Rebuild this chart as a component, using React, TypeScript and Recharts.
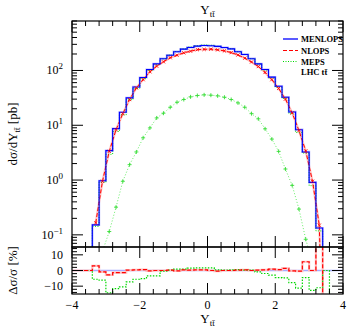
import React from 'react';
import { ComposedChart, Line, XAxis, YAxis, ReferenceLine } from 'recharts';

// bin centres of the rapidity histogram (width 0.2)
const binCenters = [-3.3, -3.1, -2.9, -2.7, -2.5, -2.3, -2.1, -1.9, -1.7, -1.5, -1.3, -1.1, -0.9, -0.7, -0.5, -0.3, -0.1,
  0.1, 0.3, 0.5, 0.7, 0.9, 1.1, 1.3, 1.5, 1.7, 1.9, 2.1, 2.3, 2.5, 2.7, 2.9, 3.1, 3.3];
const binWidth = 0.2;

// dsigma/dY [pb]
const menlops = [0.152, 0.97, 3.44, 8.7, 17.3, 31.6, 50, 74.5, 104, 132, 164, 190, 220, 245, 263, 278, 286,
  283, 275, 262, 248, 220, 196, 164, 132, 104, 75.5, 51.6, 32.5, 17.5, 8.3, 3.26, 0.906, 0.133];
const nlops = [0.165, 0.95, 3.34, 8.3, 16.3, 29.5, 48, 68, 94.6, 120, 144, 171, 190, 210, 225, 240, 243,
  245, 238, 228, 212, 192, 168, 143, 118, 92, 68, 47, 30, 16.8, 8.0, 3.4, 0.95, 0.15];
const mepsScaled = [0.143, 0.91, 2.95, 7.7, 15.5, 29.3, 47.2, 70.6, 100.5, 127.5, 163.3, 190.4, 222, 247, 267, 283, 291,
  288, 276, 262.5, 249, 221, 196.4, 164.3, 130.8, 102, 73.2, 49.3, 31, 16.2, 7.4, 3.11, 0.79, 0.118];
const mepsRaw = [0.012, 0.05, 0.115, 0.32, 0.95, 1.91, 3.26, 5.9, 8.95, 13.6, 16.6, 21.3, 26.3, 29.5, 33, 34.9, 35.9,
  35.4, 34.4, 32.5, 29.5, 25.6, 21.3, 16.3, 13.1, 8.6, 5.6, 3.34, 1.59, 0.8, 0.295, 0.083, 0.03, 0.008];

// ratio panel, percent deviation from MENLOPS
const nlopsRatio = [3.0, -0.9, -2.8, -1.3, -1.3, 0.2, 0.4, 0.6, -0.2, 0, 0, 0.2, -0.2, 0.4, 0.2, 0.4, 0.4,
  0, -0.4, 0, 0, 0.2, 0.4, 0, 0.2, 0.4, 0.9, 0.6, 1.3, -0.2, -0.4, 5.6, 0, 40];
const mepsRatio = [-5.6, -6.2, -14.2, -11.6, -10.5, -7.3, -5.6, -5.2, -3.4, -3.4, -0.4, 0.2, 0.9, 0.9, 1.5, 1.7, 1.7,
  1.7, 0.4, 0.2, 0.4, 0.6, 0.2, 0.2, -0.9, -1.9, -3.0, -4.5, -4.7, -7.7, -11.2, -4.5, -12.7, -11, 0];

const xMajor = [-4, -2, 0, 2, 4];
const xTicks = [-4, -3.6, -3.2, -2.8, -2.4, -2, -1.6, -1.2, -0.8, -0.4, 0, 0.4, 0.8, 1.2, 1.6, 2, 2.4, 2.8, 3.2, 3.6, 4];
const yTicks = [0.07, 0.08, 0.09, 0.1, 0.2, 0.3, 0.4, 0.5, 0.6, 0.7, 0.8, 0.9, 1, 2, 3, 4, 5, 6, 7, 8, 9,
  10, 20, 30, 40, 50, 60, 70, 80, 90, 100, 200, 300, 400, 500, 600, 700, 800];
const rTicks = [-14, -12, -10, -8, -6, -4, -2, 0, 2, 4, 6, 8, 10, 12, 14];
const rMajor = [-10, 0, 10];

const W = 351, H = 332;
const PL = 72, PR = 343, MT = 21, MB = 247, RB = 294;
const FONT = '"Liberation Serif", "DejaVu Serif", serif';
const SUB = 't' + 't\u0304';

const BLUE = '#0000ff', RED = '#ff0000', GREEN = '#00d800';

const stepPoints = (vals: number[], floor: number, start?: number) => {
  const pts: { x: number; y: number }[] = [];
  if (start !== undefined) pts.push({ x: start, y: floor });
  vals.forEach((v, i) => {
    const c = binCenters[0] + binWidth * i;
    pts.push({ x: c - binWidth / 2, y: v });
  });
  const lastC = binCenters[0] + binWidth * (vals.length - 1);
  pts.push({ x: lastC + binWidth / 2, y: floor });
  return pts;
};
const centerPoints = (vals: number[]) => vals.map((v, i) => ({ x: binCenters[i], y: v }));

const menlopsStep = stepPoints(menlops, 0.001, binCenters[0] - 0.3);
const mepsStep = stepPoints(mepsScaled, 0.001, binCenters[0] - 0.3);
const nlopsLine = [...centerPoints(nlops), { x: 3.4, y: 0.001 }];
const mepsLine = centerPoints(mepsRaw);
const nlopsRatioStep = [{ x: -4, y: 0 }, ...stepPoints(nlopsRatio, -40)];
const mepsRatioStep = [{ x: -4, y: 0 }, ...stepPoints(mepsRatio, -40)];

const isMajorLog = (v: number) => Math.abs(Math.log10(v) - Math.round(Math.log10(v))) < 1e-6;

const fmt = (v: number) => (v < 0 ? '\u2212' + Math.abs(v) : String(v));

function MainYTick(props: any) {
  const { y, payload } = props;
  const v = payload.value;
  const major = isMajorLog(v);
  const len = major ? 11 : 5;
  const exp = Math.round(Math.log10(v));
  return (
    <g>
      <path d={`M${PL},${y}H${PL + len}M${PR - len},${y}H${PR}`} stroke="#000" strokeWidth={1} fill="none" />
      {major && (
        <text x={PL - 9} y={y + 4} textAnchor="end" fontSize={12} fontFamily={FONT} fill="#000" stroke="none">
          10<tspan dy={-5} fontSize={9}>{fmt(exp)}</tspan>
        </text>
      )}
    </g>
  );
}

function RatioYTick(props: any) {
  const { y, payload } = props;
  const v = payload.value;
  const major = rMajor.includes(v);
  const len = major ? 11 : 5;
  return (
    <g>
      <path d={`M${PL},${y}H${PL + len}M${PR - len},${y}H${PR}`} stroke="#000" strokeWidth={1} fill="none" />
      {major && (
        <text x={PL - 9} y={y + 4} textAnchor="end" fontSize={12} fontFamily={FONT} fill="#000" stroke="none">
          {fmt(v)}
        </text>
      )}
    </g>
  );
}

function XTick(props: any) {
  const { x, payload, top, bottom, labels } = props;
  const v = payload.value;
  const major = xMajor.includes(v);
  const len = major ? 11 : 5;
  return (
    <g>
      <path d={`M${x},${top}V${top + len}M${x},${bottom - len}V${bottom}`} stroke="#000" strokeWidth={1} fill="none" />
      {labels && major && (
        <text x={x} y={bottom + 15} textAnchor="middle" fontSize={12} fontFamily={FONT} fill="#000" stroke="none">
          {fmt(v)}
        </text>
      )}
    </g>
  );
}

const XMark = (props: any) => {
  const { cx, cy, index } = props;
  if (cx == null || cy == null) return <g key={`xm${index}`} />;
  const s = 1.6;
  return (
    <path key={`xm${index}`} d={`M${cx - s},${cy - s}L${cx + s},${cy + s}M${cx - s},${cy + s}L${cx + s},${cy - s}`}
      stroke={RED} strokeWidth={0.9} fill="none" />
  );
};

const PlusMark = (props: any) => {
  const { cx, cy, index } = props;
  if (cx == null || cy == null) return <g key={`pm${index}`} />;
  const s = 2;
  return (
    <path key={`pm${index}`} d={`M${cx - s},${cy}L${cx + s},${cy}M${cx},${cy - s}L${cx},${cy + s}`}
      stroke="#33dd33" strokeWidth={0.9} fill="none" />
  );
};

const layer: React.CSSProperties = { position: 'absolute', left: 0, top: 0, width: W, height: H };

export default function App() {
  return (
    <div style={{ position: 'absolute', left: 0, top: 0, width: W, height: H, background: '#fff' }}>
      <div style={layer}>
        <ComposedChart width={W} height={H} margin={{ top: MT, right: W - PR, bottom: H - MB - 20, left: 0 }}>
          <XAxis dataKey="x" type="number" domain={[-4, 4]} ticks={xTicks} interval={0} allowDataOverflow
            height={20} axisLine={false} tickLine={false}
            tick={<XTick top={MT} bottom={MB} labels={false} />} />
          <YAxis type="number" scale="log" domain={[0.06, 800]} ticks={yTicks} interval={0} allowDataOverflow
            width={PL} axisLine={false} tickLine={false} tick={<MainYTick />} />
          <Line data={menlopsStep} dataKey="y" type="stepAfter" stroke="#b8b8ff" strokeWidth={2.2} dot={false}
            isAnimationActive={false} />
          <Line data={nlopsLine} dataKey="y" type="linear" stroke="#ffc0c0" strokeWidth={2.2} dot={false}
            isAnimationActive={false} />
          <Line data={mepsStep} dataKey="y" type="stepAfter" stroke={GREEN} strokeWidth={1} strokeDasharray="1 1.5"
            dot={false} isAnimationActive={false} />
          <Line data={nlopsLine} dataKey="y" type="linear" stroke={RED} strokeWidth={1} strokeDasharray="4 2"
            dot={XMark} isAnimationActive={false} />
          <Line data={menlopsStep} dataKey="y" type="stepAfter" stroke={BLUE} strokeWidth={1.1} dot={false}
            isAnimationActive={false} />
          <Line data={mepsLine} dataKey="y" type="linear" stroke="#66ee66" strokeWidth={1} strokeDasharray="1 2"
            dot={PlusMark} isAnimationActive={false} />
        </ComposedChart>
      </div>
      <div style={layer}>
        <ComposedChart width={W} height={H} margin={{ top: MB, right: W - PR, bottom: H - RB - 30, left: 0 }}>
          <XAxis dataKey="x" type="number" domain={[-4, 4]} ticks={xTicks} interval={0} allowDataOverflow
            height={30} axisLine={false} tickLine={false}
            tick={<XTick top={MB} bottom={RB} labels={true} />} />
          <YAxis type="number" domain={[-15, 15]} ticks={rTicks} interval={0} allowDataOverflow
            width={PL} axisLine={false} tickLine={false} tick={<RatioYTick />} />
          <ReferenceLine y={0} stroke="#a8aaff" strokeWidth={1.5} />
          <Line data={nlopsRatioStep} dataKey="y" type="stepAfter" stroke="#ffc0c0" strokeWidth={2.2}
            dot={false} isAnimationActive={false} />
          <Line data={mepsRatioStep} dataKey="y" type="stepAfter" stroke={GREEN} strokeWidth={1.2}
            strokeDasharray="1.5 1.5" dot={false} isAnimationActive={false} />
          <Line data={nlopsRatioStep} dataKey="y" type="stepAfter" stroke={RED} strokeWidth={1.2}
            strokeDasharray="4 2" dot={false} isAnimationActive={false} />
        </ComposedChart>
      </div>
      <svg style={layer} width={W} height={H}>
        <rect x={PL} y={MT} width={PR - PL} height={MB - MT} fill="none" stroke="#000" strokeWidth={1.2} />
        <rect x={PL} y={MB} width={PR - PL} height={RB - MB} fill="none" stroke="#000" strokeWidth={1.2} />
        <g fontFamily={FONT} fill="#000">
          <text x={207.5} y={14} textAnchor="middle" fontSize={13}>
            Y<tspan fontSize={9} dy={3}>{SUB}</tspan>
          </text>
          <text x={207.5} y={323} textAnchor="middle" fontSize={13}>
            Y<tspan fontSize={9} dy={3}>{SUB}</tspan>
          </text>
          <text transform="translate(17,134) rotate(-90)" textAnchor="middle" fontSize={13}>
            dσ/dY<tspan fontSize={9} dy={3}>{SUB}</tspan><tspan dy={-3}> [pb]</tspan>
          </text>
          <text transform="translate(17,270.5) rotate(-90)" textAnchor="middle" fontSize={13}>
            Δσ/σ [%]
          </text>
        </g>
        <g fontFamily={FONT} fontSize={8.5} fontWeight="bold" fill="#000">
          <line x1={283} x2={298} y1={39} y2={39} stroke={BLUE} strokeWidth={1.3} />
          <text x={301} y={42}>MENLOPS</text>
          <line x1={283} x2={298} y1={50.5} y2={50.5} stroke={RED} strokeWidth={1} strokeDasharray="4 2" />
          <text x={301} y={53.5}>NLOPS</text>
          <line x1={283} x2={298} y1={61.5} y2={61.5} stroke={GREEN} strokeWidth={1} strokeDasharray="1 1.5" />
          <text x={301} y={64.5}>MEPS</text>
          <text x={301} y={75}>LHC {SUB}</text>
        </g>
      </svg>
    </div>
  );
}
